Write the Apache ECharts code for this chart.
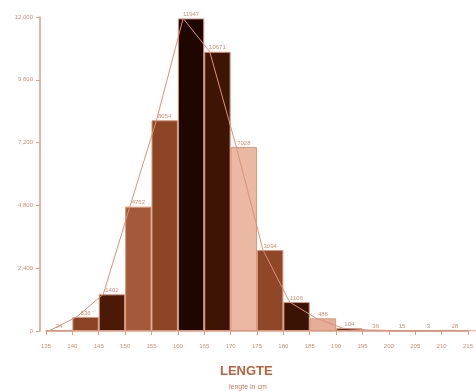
<!DOCTYPE html>
<html>
<head>
<meta charset="utf-8">
<script src="https://cdn.jsdelivr.net/npm/echarts@6/dist/echarts.min.js"></script>
<style>
html,body{margin:0;padding:0;background:#fff;}
#chart{width:476px;height:391px;}
</style>
</head>
<body>
<div id="chart"></div>
<script>
// bins (left edge of each 5 cm class) and counts
var bins = ['135','140','145','150','155','160','165','170','175','180','185','190','195','200','205','210'];
var counts = [24, 536, 1402, 4752, 8054, 11947, 10671, 7028, 3094, 1106, 486, 104, 36, 15, 3, 28];
// tick labels on the bin edges
var edges = ['135','140','145','150','155','160','165','170','175','180','185','190','195','200','205','210','215'];
// polygon drawn through the edges
var lineValues = [24, 536, 1402, 4752, 8054, 11947, 10671, 7028, 3094, 1106, 486, 104, 36, 15, 3, 28, 0];
var yTicks = [0, 2400, 4800, 7200, 9600, 12000];

var colors = ['#e2ab94','#8a4424','#4a1a06','#a4593a','#8c4626','#1f0700','#3e1404','#ebb8a4',
              '#8e4727','#3a1304','#e6ae98','#2a0c02','#e3ab94','#e3ab94','#e3ab94','#e3ab94'];
var txt = '#d08f73';
var axisCol = '#dba08a';
var font = 'Liberation Sans';

var chart = echarts.init(document.getElementById('chart'));

var yMax = yTicks[yTicks.length - 1];

var option = {
    animation: false,
    title: [
        {
            text: 'LENGTE',
            left: 220,
            top: 365,
            padding: 0,
            textStyle: { fontSize: 13, fontWeight: 'bold', color: '#b8623e', fontFamily: font }
        },
        {
            text: 'lengte in cm',
            left: 229,
            top: 384,
            padding: 0,
            textStyle: { fontSize: 7, fontWeight: 'normal', color: '#c77a5a', fontFamily: font }
        }
    ],
    grid: [
        { left: 46, right: 3, top: 17, bottom: 60 },
        { left: 50, right: -1, top: 17, bottom: 60 }
    ],
    xAxis: [
        {
            type: 'category',
            gridIndex: 0,
            data: bins,
            boundaryGap: true,
            show: false
        },
        {
            type: 'category',
            gridIndex: 0,
            data: edges,
            boundaryGap: false,
            position: 'bottom',
            axisLine: { lineStyle: { color: axisCol, width: 1.5 } },
            axisTick: { length: 4, lineStyle: { color: axisCol } },
            axisLabel: { fontSize: 6, color: txt, fontFamily: font, margin: 12 }
        },
        {
            type: 'category',
            gridIndex: 1,
            data: edges,
            boundaryGap: false,
            show: false
        }
    ],
    yAxis: [
        {
            type: 'value',
            gridIndex: 0,
            min: 0,
            max: yMax,
            interval: yTicks[1] - yTicks[0],
            offset: 6,
            axisLine: { show: true, lineStyle: { color: axisCol, width: 1.5 } },
            axisTick: { show: true, length: 4, lineStyle: { color: axisCol } },
            axisLabel: { fontSize: 6, color: txt, fontFamily: font, margin: 7 },
            splitLine: { show: false }
        },
        {
            type: 'value',
            gridIndex: 1,
            min: 0,
            max: yMax,
            show: false,
            splitLine: { show: false }
        }
    ],
    series: [
        {
            type: 'bar',
            xAxisIndex: 0,
            yAxisIndex: 0,
            barCategoryGap: '0%',
            data: counts.map(function (v, i) {
                return { value: v, itemStyle: { color: colors[i] } };
            }),
            itemStyle: { borderColor: '#d9977c', borderWidth: 1 },
            label: {
                show: true,
                position: 'top',
                distance: 1,
                fontSize: 6,
                color: txt,
                fontFamily: font
            }
        },
        {
            type: 'line',
            xAxisIndex: 2,
            yAxisIndex: 1,
            data: lineValues,
            symbol: 'none',
            z: 5,
            lineStyle: { color: '#d99178', width: 1 }
        }
    ]
};

chart.setOption(option);
</script>
</body>
</html>
